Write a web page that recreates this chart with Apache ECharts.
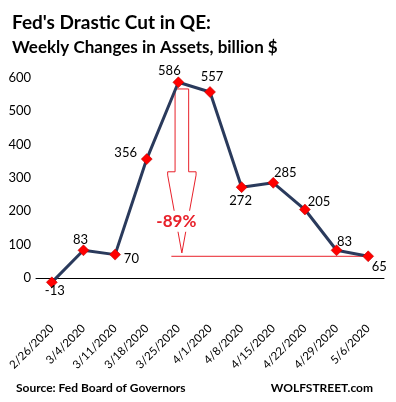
<!DOCTYPE html>
<html>
<head>
<meta charset="utf-8">
<script src="https://cdn.jsdelivr.net/npm/echarts@6/dist/echarts.min.js"></script>
<style>
  html, body { margin: 0; padding: 0; background: #fff; }
  #chart { width: 396px; height: 402px; }
</style>
</head>
<body>
<div id="chart"></div>
<script>
// weekly change in Fed assets, billion $
const weeks = ['2/26/2020', '3/4/2020', '3/11/2020', '3/18/2020', '3/25/2020', '4/1/2020',
  '4/8/2020', '4/15/2020', '4/22/2020', '4/29/2020', '5/6/2020'];
const weeklyChange = [-13, 83, 70, 356, 586, 557, 272, 285, 205, 83, 65];
const yTicks = [0, 100, 200, 300, 400, 500, 600];

// drop annotation: from the peak week down to the latest level
const dropWeek = '3/25/2020';
const dropLabel = '-89%';
const arrowLevels = [566, 318, 308, 75]; // shaft top, head shoulder, shoulder bottom, tip
const dropTextLevel = 170;
const floorLevel = 65;

// where each point label sits (style only)
const labelSpots = [
  ['bottom', [3, -4]], ['top', [-3, 2]], ['right', [3, 4]], ['left', [-4, -6]],
  ['top', [-9, 1]], ['top', [2, -3]], ['bottom', [-1, 1]], ['top', [12, 2]],
  ['right', [-3, -8]], ['top', [8, 4]], ['bottom', [11, -2]]
];

const font = 'Lato, "Open Sans", sans-serif';
const red = '#e8202a';

const chart = echarts.init(document.getElementById('chart'));

const lineData = weeklyChange.map((v, i) => ({
  value: v,
  label: { position: labelSpots[i][0], offset: labelSpots[i][1] }
}));

const renderDrop = (params, api) => {
  const cat = weeks.indexOf(dropWeek);
  const cx = api.coord([cat, arrowLevels[0]])[0] + 3.5;
  const y = arrowLevels.map(v => api.coord([cat, v])[1]);
  const shaft = 6.8, head = 14.2;
  const floorStart = api.coord([cat, floorLevel]);
  const floorEnd = api.coord([weeks.length - 1, floorLevel]);
  const textPos = api.coord([cat, dropTextLevel]);
  return {
    type: 'group',
    children: [
      {
        type: 'polygon',
        shape: {
          points: [
            [cx - shaft, y[0]], [cx + shaft, y[0]], [cx + shaft, y[1]], [cx + head, y[1]],
            [cx + head, y[2]], [cx, y[3]], [cx - head, y[2]], [cx - head, y[1]], [cx - shaft, y[1]]
          ]
        },
        style: { fill: 'none', stroke: red, lineWidth: 1 }
      },
      {
        type: 'line',
        shape: { x1: floorStart[0] - 7, y1: floorStart[1], x2: floorEnd[0], y2: floorEnd[1] },
        style: { stroke: red, lineWidth: 1 }
      },
      {
        type: 'text',
        x: textPos[0] - 2,
        y: textPos[1],
        style: {
          text: dropLabel,
          fill: red,
          font: 'bold 17px ' + font,
          align: 'center',
          verticalAlign: 'middle',
          backgroundColor: '#fff',
          padding: [2, 0]
        }
      }
    ]
  };
};

const option = {
  animation: false,
  backgroundColor: '#fff',
  textStyle: { fontFamily: font },
  title: [
    { text: "Fed's Drastic Cut in QE:", left: 7, top: 8,
      textStyle: { fontSize: 19, fontWeight: 'bold', color: '#000', fontFamily: font } },
    { text: 'Weekly Changes in Assets, billion $', left: 7, top: 34,
      textStyle: { fontSize: 17, fontWeight: 'bold', color: '#000', fontFamily: font } },
    { text: 'Source: Fed Board of Governors', left: 11, top: 377,
      textStyle: { fontSize: 12, fontWeight: 'bold', color: '#000', fontFamily: font } },
    { text: 'WOLFSTREET.com', right: 18, top: 377,
      textStyle: { fontSize: 12, fontWeight: 'bold', color: '#000', fontFamily: font } }
  ],
  grid: { left: 36, right: 12, top: 77.6, bottom: 90.6, containLabel: false, outerBoundsMode: 'none' },
  xAxis: {
    type: 'category',
    data: weeks,
    axisLine: { onZero: true, lineStyle: { color: '#000', width: 1 } },
    axisTick: { show: false },
    axisLabel: { interval: 0, rotate: 45, margin: 15, fontSize: 11.5, color: '#000', fontFamily: font }
  },
  yAxis: {
    type: 'value',
    min: -100,
    max: 600,
    interval: 100,
    splitLine: { show: false },
    axisLine: { show: false },
    axisTick: { show: false },
    axisLabel: {
      margin: 5,
      fontSize: 13,
      color: '#000',
      fontFamily: font,
      formatter: v => (yTicks.includes(v) ? String(v) : '')
    }
  },
  series: [
    {
      type: 'custom',
      renderItem: renderDrop,
      data: [[0, 0]],
      silent: true,
      z: 1
    },
    {
      type: 'line',
      data: lineData,
      z: 3,
      symbol: 'diamond',
      symbolSize: 11,
      lineStyle: { color: '#2a3a5c', width: 3 },
      itemStyle: { color: '#ff0000', borderColor: '#b00000', borderWidth: 0.5 },
      label: { show: true, distance: 0, fontSize: 13, color: '#000', fontFamily: font }
    }
  ]
};

chart.setOption(option);
</script>
</body>
</html>
